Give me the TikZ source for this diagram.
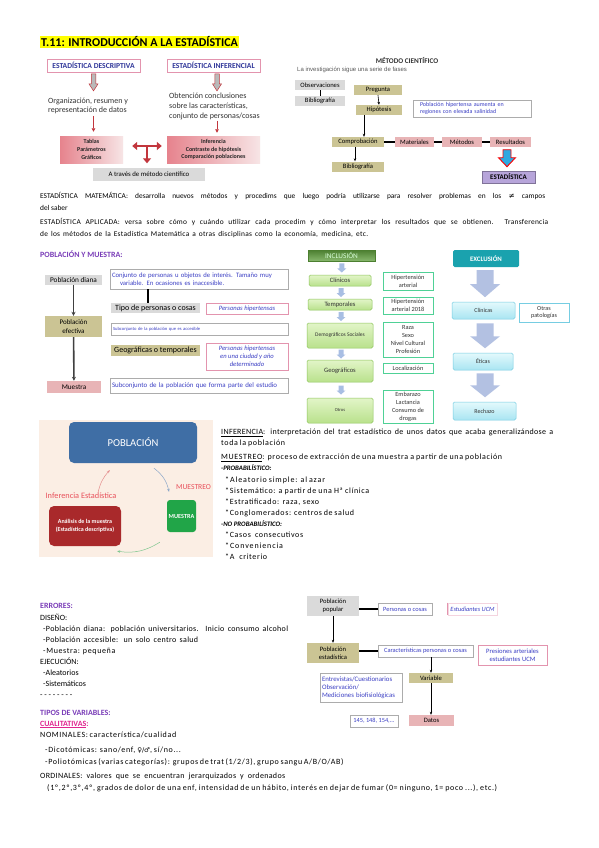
\documentclass[tikz,border=0pt]{standalone}
\usepackage{fontspec}
\setmainfont{Carlito}
\newfontfamily\arialfont{Liberation Sans}
\newfontfamily\symfont{DejaVu Sans}
\newfontfamily\spreadA[LetterSpace=4]{Carlito}
\newfontfamily\spreadB[LetterSpace=8]{Carlito}
\newfontfamily\spreadC[LetterSpace=11]{Carlito}
\usepackage{xcolor}
\usetikzlibrary{arrows.meta, calc}
\definecolor{hilite}{HTML}{FFFF00}
\definecolor{headblue}{HTML}{2F3699}
\definecolor{boxblue}{HTML}{3B3FC4}
\definecolor{pinkline}{HTML}{E394AE}
\definecolor{olivefill}{HTML}{CBC494}
\definecolor{grayfill}{HTML}{DADADA}
\definecolor{rosefill}{HTML}{E8B4B6}
\definecolor{rosedeep}{HTML}{E6838D}
\definecolor{headpurple}{HTML}{7A3DB8}
\definecolor{magentatxt}{HTML}{E0248F}
\definecolor{tred}{HTML}{C2363D}
\definecolor{incgreen}{HTML}{5F9F3C}
\definecolor{inclight}{HTML}{E2F5C8}
\definecolor{incmid}{HTML}{B9E18C}
\definecolor{incline}{HTML}{8DC45B}
\definecolor{sidegreen}{HTML}{4FD196}
\definecolor{incarrow}{HTML}{A8BEE3}
\definecolor{excteal}{HTML}{1AA2AE}
\definecolor{exclight}{HTML}{E3F9FC}
\definecolor{excmid}{HTML}{A9E5F2}
\definecolor{excline}{HTML}{76CDE2}
\definecolor{arrlav}{HTML}{B3C1E2}
\definecolor{peach}{HTML}{FBEEE4}
\definecolor{poblblue}{HTML}{3F6EA5}
\definecolor{muestgreen}{HTML}{21A548}
\definecolor{analred}{HTML}{A9292B}
\definecolor{labelred}{HTML}{E8505B}
\definecolor{cyanarrow}{HTML}{2EA9E1}
\definecolor{estpurple}{HTML}{B7A5DA}
\definecolor{arrblue}{HTML}{8AA6C8}
\definecolor{arrgreen}{HTML}{7CC68D}
\definecolor{arrpink}{HTML}{E48C8C}

% one line of text spread to a given width
\newcommand{\fitline}[2]{\makebox[#1][s]{#2}}

\tikzset{
  body/.style={anchor=base west, inner sep=0pt, font=\fontsize{8}{9}\selectfont},
  parag/.style={body, font=\fontsize{7.4}{9}\selectfont},
  heading/.style={body, text=headpurple, font=\fontsize{8}{9}\selectfont\bfseries},
  fbox/.style={inner sep=1pt, align=center, font=\fontsize{6.6}{7.6}\selectfont},
  graybox/.style={fbox, fill=grayfill},
  olivebox/.style={fbox, fill=olivefill},
  rosebox/.style={fbox, fill=rosefill},
  bluebox/.style={fbox, draw=gray!65, line width=0.6pt, text=boxblue},
  pinkbox/.style={fbox, draw=pinkline, line width=0.6pt, text=boxblue},
  pinkhead/.style={fbox, draw=pinkline, line width=0.8pt, text=headblue,
    font=\fontsize{7.6}{8}\selectfont\bfseries},
  tabgrad/.style={fbox, left color=rosedeep, right color=rosefill!35,
    text=black!85, font=\fontsize{6}{7.8}\selectfont\bfseries},
  plain/.style={inner sep=0pt, align=left, font=\fontsize{8}{9.6}\selectfont, text=black!80},
  incbox/.style={fbox, top color=inclight, bottom color=incmid, draw=incline,
    line width=0.5pt, rounded corners=1.5pt, text=black!80},
  sidebox/.style={fbox, draw=sidegreen, line width=0.8pt, text=black!80,
    font=\fontsize{6.3}{8.1}\selectfont},
  excbox/.style={fbox, top color=exclight, bottom color=excmid, draw=excline,
    line width=0.5pt, rounded corners=1.5pt, text=black!80, font=\fontsize{6}{7}\selectfont},
  imgbox/.style={fbox, rounded corners=5pt, text=white},
  link/.style={line width=1.2pt},
  arr/.style={line width=0.6pt, -{Stealth[length=3pt,width=2.5pt]}},
  bigarr/.style={line width=1.6pt, black!75, -{Stealth[length=4pt,width=4pt]}},
  tarrow/.style={tred, line width=2.6pt},
  loopline/.style={line width=0.5pt, -{Stealth[length=3pt,width=2.5pt]}},
  pics/downarr/.style n args={4}{code={
    \path[pic actions] (-#3/2,0) -- (#3/2,0) -- (#3/2,#1-#4) -- (#2/2,#1-#4)
      -- (0,#1) -- (-#2/2,#1-#4) -- (-#3/2,#1-#4) -- cycle;}}
}

\begin{document}
\begin{tikzpicture}[x=1pt, y=-1pt]
  \fill[white] (0,0) rectangle (599,848);

  % title
  \node[fill=hilite, inner xsep=1pt, inner ysep=0.8pt, anchor=west,
        font=\fontsize{12}{13}\selectfont\bfseries] (title) at (40,42)
        {T.11: INTRODUCCIÓN A LA ESTADÍSTICA};

  % descriptiva / inferencial
  \node[pinkhead, minimum width=93pt, minimum height=13pt] (desc) at (93.5,65.5) {ESTADÍSTICA DESCRIPTIVA};
  \node[pinkhead, minimum width=93pt, minimum height=13pt] (infer) at (213.5,65.5) {ESTADÍSTICA INFERENCIAL};
  \pic[fill=gray!55, draw=tred, line width=0.5pt] at ([yshift=-1.5pt]desc.south) {downarr={17}{9}{4.5}{7}};
  \pic[fill=gray!55, draw=tred, line width=0.5pt] at ([xshift=3.5pt,yshift=-1.5pt]infer.south) {downarr={17}{9}{4.5}{7}};
  \node[plain, anchor=west] (orgtxt) at (48,106) {Organización, resumen y\\representación de datos};
  \node[plain, anchor=west] (obttxt) at (169,106.5) {Obtención conclusiones\\sobre las características,\\conjunto de personas/cosas};
  \node[tabgrad, minimum width=63pt, minimum height=27pt] (tabl) at (91.5,149.5) {Tablas\\Parámetros\\Gráficos};
  \node[tabgrad, minimum width=93pt, minimum height=27pt] (infbox) at (213.5,149.5) {Inferencia\\Contraste de hipótesis\\Comparación poblaciones};
  \draw[tred, line width=0.8pt, -{Triangle[width=3.5pt,length=3.5pt]}]
    ([yshift=-1.5pt]orgtxt.south -| desc) -- ([yshift=4pt]tabl.north -| desc);
  \draw[tred, line width=0.8pt, -{Triangle[width=3.5pt,length=3.5pt]}]
    ([xshift=3.5pt,yshift=-1pt]obttxt.south -| infer) -- ([xshift=3.5pt,yshift=3pt]infbox.north -| infer);
  \node[graybox, font=\fontsize{6.8}{7}\selectfont, minimum width=112pt, minimum height=13pt] (metodo) at (149,174.5) {A través de método científico};
  \coordinate (tjoin) at (147,146);
  \draw[tarrow, {Triangle[width=8pt,length=5pt]}-{Triangle[width=8pt,length=5pt]}]
    ([xshift=9pt,yshift=3.5pt]tabl.east) -- ([xshift=-5pt,yshift=3.5pt]infbox.west);
  \draw[tarrow, -{Triangle[width=8pt,length=5pt]}] (tjoin) -- ([yshift=4.5pt]metodo.north -| tjoin);

  % metodo cientifico
  \node[font=\fontsize{7.2}{8}\selectfont\bfseries, text=black!80, inner sep=0pt] (mctitle) at (407,61) {MÉTODO CIENTÍFICO};
  \node[anchor=west, inner sep=0pt, text=black!65, font=\arialfont\fontsize{6}{7}\selectfont] (mcsub) at (297,70) {La investigación sigue una serie de fases};
  \node[graybox, minimum width=50pt, minimum height=10pt] (obs) at (320,85) {Observaciones};
  \node[graybox, minimum width=50pt, minimum height=10pt] (bib1) at (320,101) {Bibliografía};
  \draw[line width=0.8pt] (obs.south) -- (bib1.north);
  \node[olivebox, minimum width=48pt, minimum height=10pt] (preg) at (378,90) {Pregunta};
  \node[olivebox, minimum width=46pt, minimum height=10pt] (hip) at (379,110) {Hipótesis};
  \draw[arr] (preg.south) -- (hip.north);
  \node[bluebox, align=left, font=\fontsize{6}{7.2}\selectfont, minimum width=118pt, minimum height=17pt,
        text width=104pt] (hyptxt) at (472,108.5) {Población hipertensa aumenta en\\regiones con elevada salinidad};
  \node[olivebox, minimum width=52pt, minimum height=10pt] (comp) at (358,142) {Comprobación};
  \node[rosebox, minimum width=39pt, minimum height=10pt] (mat) at (414.5,142) {Materiales};
  \node[rosebox, minimum width=40pt, minimum height=10pt] (met) at (462,142) {Métodos};
  \node[rosebox, minimum width=41pt, minimum height=10pt] (res) at (510.5,142) {Resultados};
  \node[olivebox, minimum width=52pt, minimum height=10pt] (bib2) at (358,166.5) {Bibliografía};
  \node[fbox, fill=estpurple, draw=estpurple!70!black, line width=0.4pt, minimum width=53pt, minimum height=12pt,
        font=\fontsize{7}{7}\selectfont\bfseries] (estad) at (508.5,177) {ESTADÍSTICA};
  \draw[arr] ([xshift=-15pt]hip.south) -- ([xshift=6pt]comp.north);
  \draw[link] (comp) -- (mat) (mat) -- (met) (met) -- (res);
  \draw[arr] ([xshift=-3pt]comp.south) -- ([xshift=-3pt]bib2.north);
  \pic[fill=cyanarrow, draw=red, line width=0.9pt] at ([xshift=-3.5pt,yshift=-2.5pt]res.south) {downarr={17}{17}{8}{9}};

  % estadistica matematica / aplicada
  \node[parag] (matem) at (40,198.5) {\fitline{505pt}{ESTADÍSTICA MATEMÁTICA: desarrolla nuevos métodos y procedims que luego podría utilizarse para resolver problemas en los {\symfont ≠} campos}};
  \node[parag] (matem2) at (40,210.5) {del saber};
  \node[parag] (aplic) at (40,224.5) {\fitline{508pt}{\spreadA ESTADÍSTICA APLICADA: versa sobre cómo y cuándo utilizar cada procedim y cómo interpretar los resultados que se obtienen. Transferencia}};
  \node[parag] (aplic2) at (40,236.5) {\fitline{328pt}{\spreadA de los métodos de la Estadística Matemática a otras disciplinas como la economía, medicina, etc.}};

  % poblacion y muestra
  \node[heading] (pmhead) at (40,257) {POBLACIÓN Y MUESTRA:};
  \node[graybox, font=\fontsize{7.3}{8}\selectfont, minimum width=57pt, minimum height=10pt] (pdiana) at (73.5,280) {Población diana};
  \node[olivebox, font=\fontsize{7}{8.5}\selectfont, minimum width=57pt, minimum height=21pt] (pefec) at (73.5,326.5) {Población\\efectiva};
  \node[rosebox, font=\fontsize{7.2}{8}\selectfont, minimum width=54pt, minimum height=12pt] (muestra) at (74,387) {Muestra};
  \draw[bigarr] (pdiana) -- (pefec);
  \draw[bigarr] (pefec) -- (muestra);
  \node[bluebox, align=left, font=\fontsize{6.7}{8}\selectfont, minimum width=178pt, minimum height=20pt,
        text width=174pt] (conj) at (199,279) {Conjunto de personas u objetos de interés. Tamaño muy\\\hspace*{8pt}variable. En ocasiones es inaccesible.};
  \node[graybox, font=\fontsize{8}{8}\selectfont, minimum width=89pt, minimum height=10pt] (tipo) at (155.5,308) {Tipo de personas o cosas};
  \draw[link] ([xshift=-51pt]conj.south) -- ([xshift=-7.5pt]tipo.north);
  \node[pinkbox, font=\fontsize{6.6}{7}\selectfont\itshape, minimum width=82pt, minimum height=11pt] (phip) at (247,308.5) {Personas hipertensas};
  \node[bluebox, align=left, font=\fontsize{4.6}{5}\selectfont, minimum width=177pt, minimum height=12pt,
        text width=173pt] (subacc) at (199.5,329) {Subconjunto de la población que es accesible};
  \node[olivebox, font=\fontsize{8}{8}\selectfont, minimum width=89pt, minimum height=11pt] (geo) at (155.5,350.5) {Geográficas o temporales};
  \node[pinkbox, font=\fontsize{6.6}{8.2}\selectfont\itshape, minimum width=82pt, minimum height=27pt] (phip2) at (247,356.5) {Personas hipertensas\\en una ciudad y año\\determinado};
  \node[bluebox, align=left, font=\fontsize{6.9}{8}\selectfont, minimum width=178pt, minimum height=15pt,
        text width=174pt] (subest) at (199,385.5) {Subconjunto de la población que forma parte del estudio};

  % inclusion
  \node[fbox, top color=incgreen!80!black, bottom color=incgreen!75, draw=incgreen!80!black, line width=0.4pt,
        text=white!85!green, font=\fontsize{7.3}{8}\selectfont, minimum width=67pt, minimum height=11pt] (incl) at (341.5,255.5) {INCLUSIÓN};
  \node[incbox, minimum width=62pt, minimum height=11pt] (clin) at (340,280.5) {Clínicos};
  \node[incbox, minimum width=64pt, minimum height=11pt] (temp) at (340,304.5) {Temporales};
  \node[incbox, font=\fontsize{5.5}{6}\selectfont, minimum width=66pt, minimum height=25pt] (demo) at (340,335.5) {Demográficos Sociales};
  \node[incbox, minimum width=66pt, minimum height=22pt] (geog) at (340,371) {Geográficos};
  \node[incbox, font=\fontsize{4.6}{6}\selectfont, minimum width=66pt, minimum height=25pt] (otros) at (340,410.5) {Otros};
  \foreach \a/\b in {incl/clin, clin/temp, temp/demo, demo/geog, geog/otros}
    \pic[fill=incarrow] at ($(\a.south)!0.5!(\b.north)+(1,-4.5)$) {downarr={9}{9}{5}{4}};
  \node[sidebox, minimum width=50pt, minimum height=18pt] (hta) at (408,281) {Hipertensión\\arterial};
  \node[sidebox, minimum width=50pt, minimum height=17pt] (hta18) at (408,305.5) {Hipertensión\\arterial 2018};
  \node[sidebox, minimum width=50pt, minimum height=35pt] (raza) at (408,339.5) {Raza\\Sexo\\Nivel Cultural\\Profesión};
  \node[sidebox, minimum width=50pt, minimum height=10pt] (loc) at (408,368) {Localización};
  \node[sidebox, minimum width=50pt, minimum height=33pt] (emb) at (408,406.5) {Embarazo\\Lactancia\\Consumo de\\drogas};

  % exclusion
  \node[fbox, fill=excteal, rounded corners=1.5pt, text=white, font=\fontsize{6.8}{7}\selectfont\bfseries,
        minimum width=66pt, minimum height=17pt] (excl) at (486,258.5) {EXCLUSIÓN};
  \node[excbox, minimum width=63pt, minimum height=17pt] (clin2) at (483.5,310.5) {Clínicas};
  \node[fbox, draw=excline, line width=0.5pt, text=black!80, font=\fontsize{6.2}{7.4}\selectfont,
        minimum width=50pt, minimum height=19pt] (otras) at (544,312.5) {Otras\\patologías};
  \node[excbox, minimum width=60pt, minimum height=17pt] (eti) at (483,361.5) {Éticas};
  \node[excbox, minimum width=63pt, minimum height=18pt] (rech) at (484.5,411) {Rechazo};
  \pic[fill=arrlav] at ([xshift=-1pt,yshift=-3pt]excl.south) {downarr={27}{30}{17}{13}};
  \pic[fill=arrlav] at ([xshift=1.5pt,yshift=-4pt]clin2.south) {downarr={25}{30}{17}{12}};
  \pic[fill=arrlav] at ([xshift=2pt,yshift=-3pt]eti.south) {downarr={24}{30}{17}{12}};

  % poblacion / muestra image
  \fill[peach] (39,420) rectangle (213,557);
  \node[imgbox, fill=poblblue, font=\fontsize{10.6}{11}\selectfont, minimum width=128pt, minimum height=41pt] (pobl) at (133,442.5) {POBLACIÓN};
  \node[imgbox, fill=muestgreen, rounded corners=3pt, inner sep=0pt, font=\fontsize{6.2}{7}\selectfont\bfseries,
        minimum width=29pt, minimum height=32pt] (muest) at (181.5,516) {MUESTRA};
  \node[imgbox, fill=analred, font=\fontsize{6}{7.6}\selectfont\bfseries, minimum width=72pt, minimum height=40pt] (anal) at (85,526)
        {Análisis de la muestra\\(Estadística descriptiva)};
  \node[text=labelred, inner sep=0pt, font=\fontsize{7.6}{8}\selectfont] (muestreo) at (193.5,487.5) {MUESTREO};
  \node[text=labelred, inner sep=0pt, font=\fontsize{8.3}{9}\selectfont] (infest) at (81,495.5) {Inferencia Estadística};
  \draw[loopline, arrblue] ([xshift=21pt,yshift=-5pt]pobl.south) to[bend left=20] ([xshift=-12.5pt,yshift=8pt]muest.north);
  \draw[loopline, arrgreen] ([xshift=-7pt,yshift=-10pt]muest.south west) to[bend left=20] ([xshift=-4pt,yshift=-5pt]anal.south east);
  \draw[loopline, arrpink] ([xshift=13pt,yshift=13pt]anal.north) to[bend left=15] ([xshift=41pt,yshift=-7pt]pobl.south west);

  % inferencia y muestreo
  \node[body] (inf1) at (221,434.5) {\fitline{332pt}{\spreadA\underline{INFERENCIA}: interpretación del trat estadístico de unos datos que acaba generalizándose a}};
  \node[body] (inf2) at (221,445.5) {\fitline{64pt}{\spreadB toda la población}};
  \node[body] (mst) at (221,459.5) {\fitline{281pt}{\spreadB\underline{MUESTREO}: proceso de extracción de una muestra a partir de una población}};
  \node[body, font=\fontsize{6.8}{7}\selectfont\bfseries\itshape] (prob) at (221,470.5) {-PROBABILÍSTICO:};
  \node[body] (pr1) at (225,482) {\fitline{96pt}{\spreadC *Aleatorio simple: al azar}};
  \node[body] (pr2) at (225,493) {\fitline{144pt}{\spreadB *Sistemático: a partir de una Hª clínica}};
  \node[body] (pr3) at (225,504) {\fitline{94pt}{\spreadB *Estratificado: raza, sexo}};
  \node[body] (pr4) at (225,515) {\fitline{129pt}{\spreadB *Conglomerados: centros de salud}};
  \node[body, font=\fontsize{6.8}{7}\selectfont\bfseries\itshape] (noprob) at (221,526) {-NO PROBABILÍSTICO:};
  \node[body] (np1) at (225,537.5) {\fitline{78pt}{\spreadB *Casos consecutivos}};
  \node[body] (np2) at (225,548.5) {\spreadC *Conveniencia};
  \node[body] (np3) at (225,559.5) {\fitline{42pt}{\spreadB *A criterio}};

  % errores
  \node[heading] (errhead) at (40,608.5) {ERRORES:};
  \node[body] (dis) at (40,620.5) {DISEÑO:};
  \node[body] (d1) at (43,631.5) {\fitline{245pt}{\spreadA -Población diana: población universitarios. Inicio consumo alcohol}};
  \node[body] (d2) at (43,642.5) {\fitline{155pt}{\spreadA -Población accesible: un solo centro salud}};
  \node[body] (d3) at (43,653.5) {\fitline{72pt}{\spreadB -Muestra: pequeña}};
  \node[body] (ejec) at (40,664.5) {EJECUCIÓN:};
  \node[body] (e1) at (43,675.5) {-Aleatorios};
  \node[body] (e2) at (43,686.5) {-Sistemáticos};
  \node[body] (sep) at (40,697.5) {- - - - - - - -};

  % tipos de variables
  \node[heading] (varhead) at (40,715.5) {TIPOS DE VARIABLES:};
  \node[body, text=magentatxt, font=\fontsize{8}{9}\selectfont\bfseries] (cualit) at (40,726) {\underline{CUALITATIVAS}:};
  \node[body] (nomin) at (40,737.5) {\fitline{134pt}{\spreadB NOMINALES: característica/cualidad}};
  \node[body] (dic) at (45,752.5) {\fitline{129pt}{\spreadB -Dicotómicas: sano/enf, {\symfont\fontsize{6.5}{7}\selectfont ♀/♂}, sí/no...}};
  \node[body] (pol) at (45,764.5) {\fitline{298pt}{\spreadB -Poliotómicas (varias categorías): grupos de trat (1/2/3), grupo sangu A/B/O/AB)}};
  \node[body] (ordin) at (40,778.5) {\fitline{245pt}{\spreadA ORDINALES: valores que se encuentran jerarquizados y ordenados}};
  \node[body] (ord2) at (47,790.5) {\fitline{450pt}{\spreadB (1º,2º,3º,4º, grados de dolor de una enf, intensidad de un hábito, interés en dejar de fumar (0= ninguno, 1= poco ...), etc.)}};

  % poblacion popular / estadistica
  \node[graybox, font=\fontsize{6.6}{8}\selectfont, minimum width=52pt, minimum height=20pt] (ppop) at (333,606) {Población\\popular};
  \node[bluebox, font=\fontsize{6.4}{7}\selectfont, minimum width=54pt, minimum height=12pt] (pcos) at (405,609) {Personas o cosas};
  \node[pinkbox, draw=pinkline!40, font=\fontsize{6.4}{7}\selectfont\itshape, minimum width=49pt, minimum height=12pt] (estucm) at (472.5,609) {Estudiantes UCM};
  \draw[pinkline, line width=0.8pt] (estucm.north west) -- (estucm.south west);
  \node[olivebox, font=\fontsize{6.6}{8}\selectfont, minimum width=52pt, minimum height=20pt] (pest) at (333,653) {Población\\estadística};
  \node[bluebox, font=\fontsize{6.4}{7}\selectfont, minimum width=95pt, minimum height=12pt] (carac) at (425.5,651) {Características personas o cosas};
  \node[pinkbox, font=\fontsize{6.6}{8}\selectfont, minimum width=69pt, minimum height=20pt] (presi) at (512.5,655) {Presiones arteriales\\estudiantes UCM};
  \node[olivebox, minimum width=44pt, minimum height=10pt] (var) at (431,678) {Variable};
  \node[bluebox, align=left, font=\fontsize{6.8}{8.2}\selectfont, minimum width=82pt, minimum height=29pt, text width=78pt]
        (entr) at (361,687.5) {Entrevistas/Cuestionarios\\Observación/\\Mediciones biofisiológicas};
  \node[rosebox, minimum width=45pt, minimum height=11pt] (datos) at (431.5,720.5) {Datos};
  \node[bluebox, font=\fontsize{6.3}{7}\selectfont, minimum width=48pt, minimum height=12pt] (nums) at (374,721) {145, 148, 154,...};
  \draw[link] (ppop.east |- pcos) -- (pcos.west);
  \draw[arr] (ppop) -- (pest);
  \draw[link] (pest.east |- carac) -- (carac.west);
  \draw[arr] ([xshift=5.5pt]carac.south) -- (var.north);
  \draw[arr] (var.south) -- ([xshift=-0.5pt]datos.north);
\end{tikzpicture}
\end{document}
